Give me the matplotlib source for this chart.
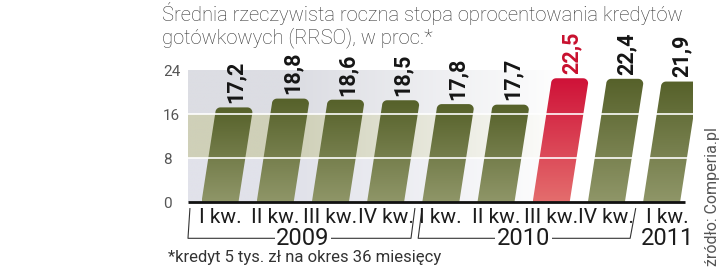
import numpy as np
import matplotlib
matplotlib.use("Agg")
import matplotlib.pyplot as plt
from matplotlib.path import Path
from matplotlib.patches import PathPatch
from matplotlib.colors import to_rgb
import matplotlib.transforms as mtransforms

# dane
quarters = ["I kw.", "II kw.", "III kw.", "IV kw.", "I kw.", "II kw.", "III kw.", "IV kw.", "I kw."]
years = ["2009", "2010", "2011"]
year_groups = [(0, 3), (4, 7), (8, 8)]
values = [17.2, 18.8, 18.6, 18.5, 17.8, 17.7, 22.5, 22.4, 21.9]
labels = ["17,2", "18,8", "18,6", "18,5", "17,8", "17,7", "22,5", "22,4", "21,9"]
highlight = 6
yticks = [0, 8, 16, 24]

title_lines = ["Średnia rzeczywista roczna stopa oprocentowania kredytów",
               "gotówkowych (RRSO), w proc.*"]
footnote = "*kredyt 5 tys. zł na okres 36 miesięcy"
source = "źródło: Comperia.pl"

W, H = 720, 268
fig = plt.figure(figsize=(W / 100, H / 100), dpi=100)
ax = fig.add_axes([188 / W, 66 / H, 505 / W, 132 / H])

px_x = 55.2          # pikseli na jednostkę osi x
px_y = 132 / 24      # pikseli na jednostkę osi y
xl, xr = (188 - 220) / px_x, (693 - 220) / px_x
ax.set_xlim(xl, xr)
ax.set_ylim(0, 24)
for s in ax.spines.values():
    s.set_visible(False)
ax.set_xticks([])

# tło: trzy pasy, wygaszane do bieli w prawo
band_cols = [to_rgb("#e1e2ea"), to_rgb("#cfd0b8"), to_rgb("#dcdde3")]
nx, ny = 400, 240
xs = np.linspace(xl, xr, nx)
t = np.clip((xs - 1.4) / (6.3 - 1.4), 0, 1)[None, :, None]
bg = np.zeros((ny, nx, 3))
for k, c in enumerate(band_cols):
    bg[k * 80:(k + 1) * 80, :, :] = np.array(c)[None, None, :]
bg = bg * (1 - t) + np.ones(3) * t
ax.imshow(bg, extent=[xl, xr, 0, 24], origin="lower", aspect="auto", zorder=0)

# słupki - ukośne, zaokrąglone u góry, z gradientem
bw = 37 / px_x
slant = 0.155 * px_y / px_x
r = 5
rx, ry = r / px_x, r / px_y
olive_top, olive_bot = np.array(to_rgb("#56612a")), np.array(to_rgb("#8f9668"))
red_top, red_bot = np.array(to_rgb("#cf1238")), np.array(to_rgb("#e46d6d"))

for i, v in enumerate(values):
    x0, x1 = i - bw / 2, i + bw / 2
    s = slant * v
    sy = slant * (v - ry)
    th1 = np.linspace(np.pi, np.pi / 2, 8)
    th2 = np.linspace(np.pi / 2, 0, 8)
    pts = [(x0, 0), (x0 + sy, v - ry)]
    pts += [(x0 + sy + rx + rx * np.cos(a), v - ry + ry * np.sin(a)) for a in th1]
    pts += [(x1 + sy - rx + rx * np.cos(a), v - ry + ry * np.sin(a)) for a in th2]
    pts += [(x1 + sy, v - ry), (x1, 0), (x0, 0)]
    patch = PathPatch(Path(pts), facecolor="none", edgecolor="none", zorder=2)
    ax.add_patch(patch)
    top, bot = (red_top, red_bot) if i == highlight else (olive_top, olive_bot)
    g = np.linspace(0, 1, 100)[:, None, None]
    img = bot * (1 - g) + top * g
    im = ax.imshow(img, extent=[x0, x1 + s + 0.05, 0, v], origin="lower",
                   aspect="auto", zorder=2)
    im.set_clip_path(patch)
    ax.annotate(labels[i], (i + s, v), xytext=(1, 3), textcoords="offset points",
                rotation=90, ha="center", va="bottom", fontsize=15.5,
                fontweight="bold", family="Roboto",
                color="#c8102e" if i == highlight else "#151515",
                annotation_clip=False, zorder=5)

# białe linie siatki i czarna oś
for yv in yticks[1:3]:
    ax.plot([xl, xr], [yv, yv], color="white", lw=1.3, alpha=0.9, zorder=3)
ax.plot([xl, (685 - 220) / px_x], [0, 0], color="#111111", lw=2,
        zorder=4, clip_on=False, solid_capstyle="butt")

ax.set_yticks(yticks)
ax.set_yticklabels([str(y) for y in yticks], family="Roboto", fontsize=11,
                   color="#555555", ha="left")
ax.tick_params(axis="y", length=0, pad=18)

# etykiety kwartałów i lat
trans = mtransforms.blended_transform_factory(ax.transData, ax.transAxes)
for i, q in enumerate(quarters):
    xq = i + (0.1 if i == 8 else 0)
    ax.text(xq, -0.115, q, transform=trans, ha="center", va="center",
            fontsize=15, family="Roboto", color="#1c1c1c")

ylo, yhi = -0.275, -0.05
brackets = [(-0.58, -0.545, 3.46, 3.53), (3.59, 3.66, 7.43, 7.53)]
for (lb, lt, rb, rt) in brackets:
    ax.plot([lt, lb, rb, rt], [yhi, ylo, ylo, yhi], transform=trans,
            color="#333333", lw=0.8, clip_on=False)
for (a, b), yr in zip(year_groups, years):
    xc = (a + b) / 2 + (0.1 if a == b else 0)
    ax.text(xc, ylo, yr, transform=trans, ha="center", va="center",
            fontsize=17, family="Roboto", color="#1c1c1c",
            bbox=dict(facecolor="white", edgecolor="none", pad=1))

fig.text(162 / W, 1 - 21 / H, title_lines[0], family="Roboto", fontweight="light",
         fontsize=14.5, color="#333333", va="baseline")
fig.text(162 / W, 1 - 43 / H, title_lines[1], family="Roboto", fontweight="light",
         fontsize=14.5, color="#333333", va="baseline")
fig.text(168 / W, 1 - 262 / H, footnote, family="Roboto", fontsize=12,
         color="#333333", va="baseline")
fig.text(712 / W, 1 - 197 / H, source, family="Roboto", fontsize=11.5,
         color="#555555", rotation=90, ha="center", va="center")

fig.savefig("out.png", dpi=100)
